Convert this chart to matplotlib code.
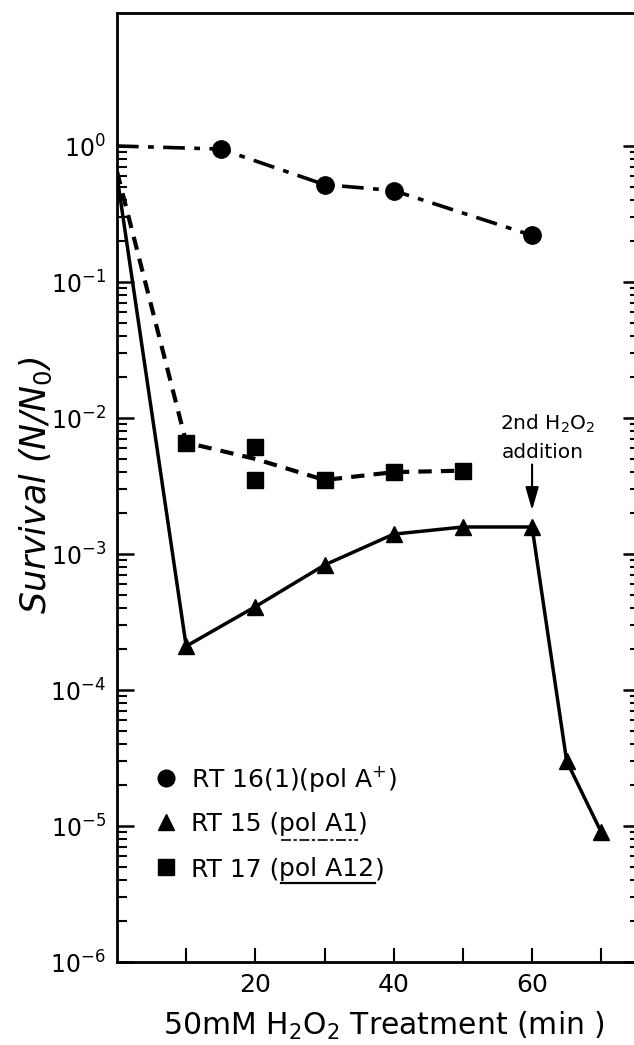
import matplotlib
matplotlib.use("Agg")
import numpy as np
import matplotlib.pyplot as plt
from matplotlib.ticker import FixedLocator, NullFormatter
from matplotlib.transforms import IdentityTransform
from matplotlib.lines import Line2D

plt.rcParams['font.family'] = ['DejaVu Sans']
plt.rcParams['mathtext.fontset'] = 'dejavusans'

# RT 16(1) (pol A+) survival
rt16_time = [0, 15, 30, 40, 60]
rt16_surv = [1.0, 0.95, 0.52, 0.47, 0.22]

# RT 15 (pol A1) survival, second H2O2 dose at 60 min
rt15_time = [0, 10, 20, 30, 40, 50, 60, 65, 70]
rt15_surv = [0.6, 2.1e-4, 4.1e-4, 8.3e-4, 1.4e-3, 1.58e-3, 1.58e-3, 3.0e-5, 9e-6]

# RT 17 (pol A12): curve through the mean, two platings at 20 min
rt17_curve_time = [0, 10, 20, 30, 40, 50]
rt17_curve_surv = [0.65, 6.6e-3, 5.0e-3, 3.5e-3, 4.0e-3, 4.1e-3]
rt17_time = [10, 20, 20, 30, 40, 50]
rt17_surv = [6.6e-3, 6.1e-3, 3.5e-3, 3.5e-3, 4.0e-3, 4.1e-3]

decades = [1e0, 1e-1, 1e-2, 1e-3, 1e-4, 1e-5, 1e-6]
decade_labels = [r'$10^{0}$', r'$10^{-1}$', r'$10^{-2}$', r'$10^{-3}$',
                 r'$10^{-4}$', r'$10^{-5}$', r'$10^{-6}$']
x_ticks = [10, 20, 30, 40, 50, 60, 70]
x_tick_labels = ['', '20', '', '40', '', '60', '']

W, H = 634, 1045
fig = plt.figure(figsize=(W / 100, H / 100), dpi=100)
ax = fig.add_axes([117 / W, 83 / H, 523 / W, 949 / H])

ax.plot(rt16_time, rt16_surv, color='black', lw=2.6, marker='o', ms=12.5,
        markevery=[1, 2, 3, 4], dashes=(6.0, 2.6, 1.6, 2.6), dash_capstyle='butt')
ax.plot(rt15_time, rt15_surv, color='black', lw=2.5, marker='^', ms=12,
        markevery=list(range(1, len(rt15_time))))
ax.plot(rt17_curve_time, rt17_curve_surv, color='black', lw=3.0, dashes=(3.2, 2.2))
ax.plot(rt17_time, rt17_surv, ls='none', color='black', marker='s', ms=12)

ax.set_yscale('log')
ax.set_xlim(0, 75.6)
ax.set_ylim(1e-6, 10 ** 0.978)

# minor ticks only inside the labelled decades
minor_y = [m * d for d in decades[1:] for m in range(2, 10)]
ax.set_yticks(decades)
ax.set_yticklabels(decade_labels, fontsize=17)
ax.yaxis.set_minor_locator(FixedLocator(minor_y))
ax.yaxis.set_minor_formatter(NullFormatter())
ax.set_xticks(x_ticks)
ax.set_xticklabels(x_tick_labels, fontsize=18)

ax.tick_params(axis='y', which='major', direction='in', left=True, right=True,
               length=12, width=1.8, pad=8)
ax.tick_params(axis='y', which='minor', direction='in', left=True, right=True,
               length=7, width=1.5)
ax.tick_params(axis='x', which='major', direction='in', bottom=True, top=False,
               length=10, width=1.5, pad=8)
ax.tick_params(axis='x', which='minor', bottom=False, top=False)
for sp in ax.spines.values():
    sp.set_linewidth(2.0)

# axis titles, placed in pixels
px = IdentityTransform()
fig.text(384, H - 1035, r'50mM H$_2$O$_2$ Treatment (min )', transform=px,
         ha='center', va='baseline', fontsize=21.5)
fig.text(36, H - 485, r'Survival (N/N$_{\mathit{0}}$)', transform=px, rotation=90,
         ha='center', va='center', fontsize=25, style='italic')

# second dose marker
ax.annotate('', xy=(60, rt15_surv[6]), xytext=(0, 45), textcoords='offset points',
            arrowprops=dict(arrowstyle='-|>,head_length=0.7,head_width=0.2',
                            color='black', lw=1.5, shrinkA=0, shrinkB=12,
                            mutation_scale=20))
fig.text(548, H - 430, r'2nd H$_2$O$_2$', transform=px, ha='center',
         va='baseline', fontsize=14.5)
fig.text(543, H - 458, 'addition', transform=px, ha='center',
         va='baseline', fontsize=14.5)

# key with underlined genotypes
renderer = fig.canvas.get_renderer()


def key_row(y_img, marker, pieces):
    fig.add_artist(Line2D([166], [H - y_img], transform=px, marker=marker,
                          ms=12, color='black', ls='none'))
    x = 191
    for s, ul in pieces:
        t = fig.text(x, H - y_img - 9, s, transform=px, ha='left',
                     va='baseline', fontsize=18)
        w = t.get_window_extent(renderer).width
        if ul == 'solid':
            fig.add_artist(Line2D([x + 2, x + w], [H - y_img - 16] * 2,
                                  transform=px, color='black', lw=1.6))
        elif ul == 'dashdot':
            fig.add_artist(Line2D([x + 2, x + w], [H - y_img - 18] * 2,
                                  transform=px, color='black', lw=1.2,
                                  dashes=(6, 1.5, 2, 1.5)))
        x += w


key_row(778, 'o', [(r'RT 16(1)(pol A$^{+}$)', None)])
key_row(822, '^', [('RT 15 (', None), ('pol A1', 'dashdot'), (')', None)])
key_row(867, 's', [('RT 17 (', None), ('pol A12', 'solid'), (')', None)])

fig.savefig('out.png', dpi=100)
